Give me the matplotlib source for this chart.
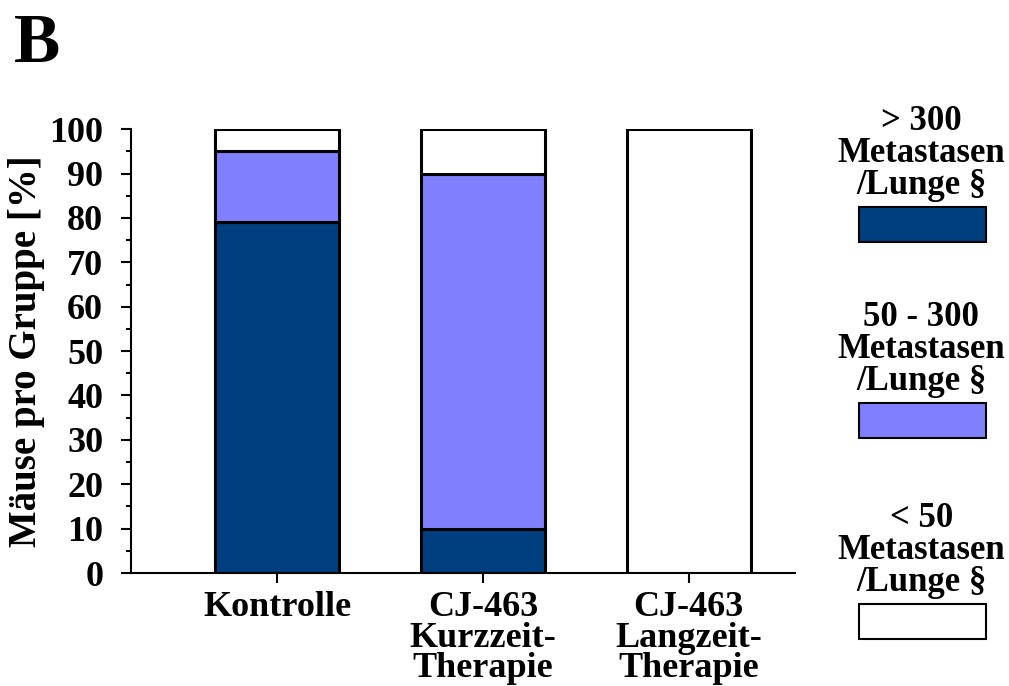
import matplotlib
matplotlib.use("Agg")
import matplotlib.pyplot as plt
from matplotlib.patches import Rectangle
from matplotlib.ticker import MultipleLocator

plt.rcParams['font.family'] = ['Liberation Serif', 'DejaVu Serif']
plt.rcParams['font.weight'] = 'bold'

# ── data
groups = ["Kontrolle", "CJ-463\nKurzzeit-\nTherapie", "CJ-463\nLangzeit-\nTherapie"]
high = [79, 10, 0]      # > 300 Metastasen/Lunge
mid = [16, 80, 0]       # 50 - 300
low = [5, 10, 100]      # < 50

labels = ["> 300\nMetastasen\n/Lunge §", "50 - 300\nMetastasen\n/Lunge §", "< 50\nMetastasen\n/Lunge §"]
colors = ["#003F7F", "#8080FF", "#FFFFFF"]

# ── figure
fig = plt.figure(figsize=(10.09, 6.86), dpi=100)
ax = fig.add_axes([0.1298, 0.1647, 0.658, 0.647])

x = range(len(groups))
bottom2 = [a + b for a, b in zip(high, mid)]
ax.bar(x, high, width=0.6, color=colors[0], edgecolor="black", linewidth=2.2)
ax.bar(x, mid, width=0.6, bottom=high, color=colors[1], edgecolor="black", linewidth=2.2)
ax.bar(x, low, width=0.6, bottom=bottom2, color=colors[2], edgecolor="black", linewidth=2.2)

ax.set_xlim(-0.709, 2.515)
ax.set_ylim(0, 100)
ax.yaxis.set_major_locator(MultipleLocator(10))
ax.yaxis.set_minor_locator(MultipleLocator(5))
ax.set_xticks(list(x))
ax.set_xticklabels(groups, fontsize=26, fontweight='bold', linespacing=0.9)
ax.tick_params(axis='y', which='major', length=7, width=1.5, labelsize=26, pad=13)
ax.tick_params(axis='y', which='minor', length=3.5, width=1.5)
ax.tick_params(axis='x', length=7, width=1.5, pad=6)
for lab in ax.get_yticklabels():
    lab.set_fontweight('bold')

for s in ['top', 'right']:
    ax.spines[s].set_visible(False)
for s in ['left', 'bottom']:
    ax.spines[s].set_linewidth(1.5)

ax.set_ylabel("Mäuse pro Gruppe [%]", fontsize=28, fontweight='bold', labelpad=3)

fig.text(0.014, 0.935, "B", fontsize=50, fontweight='bold', va='center', ha='left')

# ── legend drawn by hand
box_bottoms = [0.647, 0.3615, 0.0685]
for lab, col, by in zip(labels, colors, box_bottoms):
    fig.text(0.913, by + 0.051 + 0.008, lab, fontsize=25, fontweight='bold',
             ha='center', va='bottom', linespacing=0.95)
    fig.add_artist(Rectangle((0.851, by), 0.126, 0.051, transform=fig.transFigure,
                             facecolor=col, edgecolor='black', linewidth=1.5))

fig.savefig("out.png", dpi=100)
